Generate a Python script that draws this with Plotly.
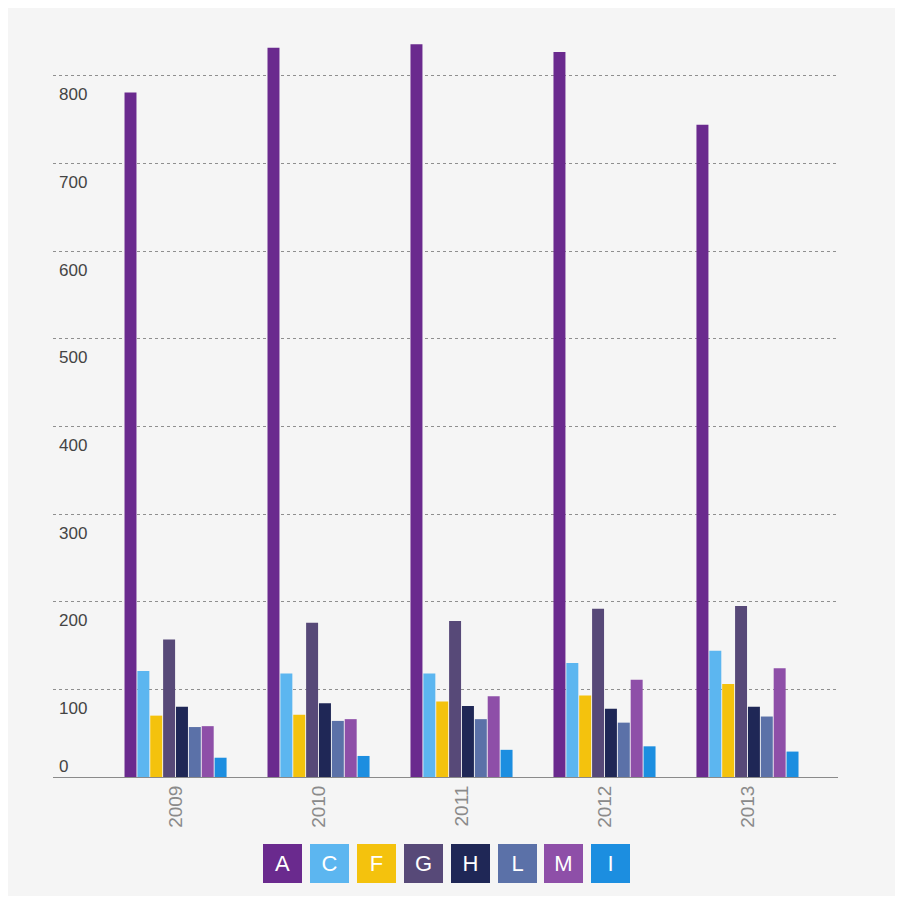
import plotly.graph_objects as go

years = ["2009", "2010", "2011", "2012", "2013"]
series_names = ["A", "C", "F", "G", "H", "L", "M", "I"]
A = [781, 832, 836, 827, 744]
C = [121, 118, 118, 130, 144]
F = [70, 71, 86, 93, 106]
G = [157, 176, 178, 192, 195]
H = [80, 84, 81, 78, 80]
L = [57, 64, 66, 62, 69]
M = [58, 66, 92, 111, 124]
I = [22, 24, 31, 35, 29]
y_ticks = [0, 100, 200, 300, 400, 500, 600, 700, 800]

series_values = [A, C, F, G, H, L, M, I]
colors = ["#6a2a8e", "#5cb6f0", "#f4c20d", "#574978", "#1f2756", "#5b71a8", "#8e4fa8", "#1c8ee0"]

# page offset of the figure inside the browser window (body margin)
OFF = 8
W, Hh = 903 - 2 * OFF, 904 - 2 * OFF
ml = 53 - OFF
mt = 20 - OFF
mr = W - (838 - OFF)
mb = Hh - (777 - OFF)
pw, ph = W - ml - mr, Hh - mt - mb

def px_x(p):
    return (p - OFF - ml) / pw

def px_y(p):
    return (Hh - mb - (p - OFF)) / ph

fig = go.Figure()
for name, vals, col in zip(series_names, series_values, colors):
    fig.add_trace(go.Bar(x=years, y=vals, name=name, marker=dict(color=col, line=dict(width=0)),
                         showlegend=False))

annotations = []
for v in y_ticks:
    annotations.append(dict(x=px_x(57), xref="paper", y=v, yref="y", xanchor="left", yanchor="middle",
                            yshift=(11 if v == 0 else -19), text=str(v), showarrow=False,
                            font=dict(size=17, color="#444444", family="Liberation Sans Narrow, Liberation Sans, sans-serif")))

step = 46.9
first_center = 282.5
for i, (name, col) in enumerate(zip(series_names, colors)):
    cx = first_center + i * step
    annotations.append(dict(x=px_x(cx), xref="paper", y=px_y(863.5), yref="paper",
                            xanchor="center", yanchor="middle", text=name, showarrow=False,
                            width=39, height=39, bgcolor=col, borderpad=0, borderwidth=0,
                            font=dict(size=22, color="#ffffff", family="Liberation Sans Narrow, Liberation Sans, sans-serif")))

fig.update_layout(
    width=W, height=Hh, autosize=False,
    margin=dict(l=ml, r=mr, t=mt, b=mb, pad=0),
    paper_bgcolor="#f5f5f5", plot_bgcolor="#f5f5f5",
    barmode="group", bargap=0.28, bargroupgap=0.07,
    annotations=annotations,
    xaxis=dict(range=[-0.857, 4.633], tickangle=-90, showgrid=False, showline=True,
               linecolor="#8a8a8a", linewidth=1, ticks="", zeroline=False,
               tickfont=dict(size=19, color="#8a8a8a", family="Liberation Sans Narrow, Liberation Sans, sans-serif")),
    yaxis=dict(range=[0, 863.6], tickvals=y_ticks, showticklabels=False, showgrid=True,
               gridcolor="#8f8f8f", griddash="dot", gridwidth=1, zeroline=False, showline=False, ticks=""),
)

fig.write_html("out.html")
